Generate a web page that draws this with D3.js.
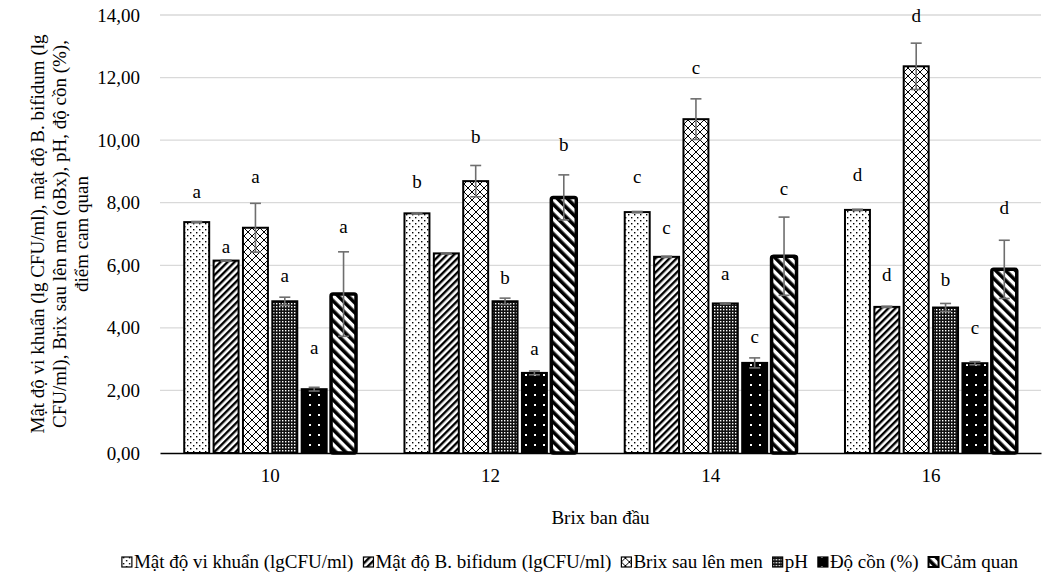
<!DOCTYPE html>
<html>
<head>
	<script src="https://cdn.jsdelivr.net/npm/d3@7"></script>
	<style>
		html, body {
			padding: 0;
			margin: 0;
			background: #fff;
		}
		text {
			font-family: "Liberation Serif", "Times New Roman", serif;
			fill: #000;
		}
	</style>
</head>
<body>
	<script>
		var width = 1042, height = 578;

		// ~ ~ ~ DATA ~ ~ ~
		var groups = ["10", "12", "14", "16"];
		var seriesNames = [
			"Mật độ vi khuẩn (lgCFU/ml)",
			"Mật độ B. bifidum (lgCFU/ml)",
			"Brix sau lên men",
			"pH",
			"Độ cồn (%)",
			"Cảm quan"
		];

		var viKhuan = [7.38, 7.66, 7.70, 7.77];
		var bifidum = [6.15, 6.38, 6.27, 4.67];
		var brixSau = [7.20, 8.69, 10.67, 12.36];
		var pH = [4.85, 4.85, 4.78, 4.65];
		var doCon = [2.04, 2.56, 2.88, 2.87];
		var camQuan = [5.08, 8.17, 6.29, 5.87];

		var viKhuanErr = [0.02, 0.02, 0.02, 0.02];
		var bifidumErr = [0.02, 0.02, 0.02, 0.02];
		var brixSauErr = [0.78, 0.50, 0.65, 0.74];
		var pHErr = [0.13, 0.10, 0.02, 0.13];
		var doConErr = [0.06, 0.06, 0.16, 0.05];
		var camQuanErr = [1.35, 0.72, 1.25, 0.93];

		// significance letters and the height they sit at
		var viKhuanLet = ["a", "b", "c", "d"], viKhuanLetY = [8.34, 8.66, 8.82, 8.88];
		var bifidumLet = ["a", null, "c", "d"], bifidumLetY = [6.58, null, 7.19, 5.69];
		var brixSauLet = ["a", "b", "c", "d"], brixSauLetY = [8.82, 10.10, 12.30, 13.96];
		var pHLet = ["a", "b", "a", "b"], pHLetY = [5.65, 5.59, 5.72, 5.53];
		var doConLet = ["a", "a", "c", "c"], doConLetY = [3.35, 3.32, 3.70, 3.99];
		var camQuanLet = ["a", "b", "c", "d"], camQuanLetY = [7.22, 9.84, 8.43, 7.82];

		var yTicks = [0, 2, 4, 6, 8, 10, 12, 14];

		var seriesValues = [viKhuan, bifidum, brixSau, pH, doCon, camQuan];
		var seriesErrors = [viKhuanErr, bifidumErr, brixSauErr, pHErr, doConErr, camQuanErr];
		var seriesLetters = [viKhuanLet, bifidumLet, brixSauLet, pHLet, doConLet, camQuanLet];
		var seriesLetterY = [viKhuanLetY, bifidumLetY, brixSauLetY, pHLetY, doConLetY, camQuanLetY];

		// ~ ~ ~ LAYOUT ~ ~ ~
		var plot = { left: 160, right: 1041, top: 15, bottom: 453 };
		var FONT = 19;

		var svg = d3.select("body").append("svg")
			.attr("width", width)
			.attr("height", height);

		var defs = svg.append("defs");

		var mkPattern = function(id, w, h, rot) {
			var p = defs.append("pattern")
				.attr("id", id)
				.attr("patternUnits", "userSpaceOnUse")
				.attr("width", w)
				.attr("height", h);
			if (rot) p.attr("patternTransform", "rotate(" + rot + ")");
			return p;
		};

		// dotted
		var p = mkPattern("pDots", 6, 6);
		p.append("rect").attr("width", 6).attr("height", 6).attr("fill", "#fff");
		p.append("rect").attr("x", 1).attr("y", 1).attr("width", 1.4).attr("height", 1.4).attr("fill", "#000");
		p.append("rect").attr("x", 4).attr("y", 4).attr("width", 1.4).attr("height", 1.4).attr("fill", "#000");

		// wide upward diagonal
		p = mkPattern("pUp", 5, 5, 45);
		p.append("rect").attr("width", 5).attr("height", 5).attr("fill", "#fff");
		p.append("rect").attr("width", 2.4).attr("height", 5).attr("fill", "#000");

		// diamonds
		p = mkPattern("pDiamond", 8, 8);
		p.append("rect").attr("width", 8).attr("height", 8).attr("fill", "#fff");
		p.append("path").attr("d", "M0,0L8,8M8,0L0,8").attr("stroke", "#000").attr("stroke-width", 1);

		// fine check for pH
		p = mkPattern("pCheck", 3, 3);
		p.append("rect").attr("width", 3).attr("height", 3).attr("fill", "#111");
		p.append("rect").attr("width", 1.4).attr("height", 1.4).attr("fill", "#fff");

		// black with white dots
		p = mkPattern("pDark", 9, 10);
		p.append("rect").attr("width", 9).attr("height", 10).attr("fill", "#000");
		p.append("rect").attr("x", 3).attr("y", 4).attr("width", 2).attr("height", 2).attr("fill", "#fff");

		// wide downward diagonal
		p = mkPattern("pDown", 7, 7, -45);
		p.append("rect").attr("width", 7).attr("height", 7).attr("fill", "#fff");
		p.append("rect").attr("width", 3.6).attr("height", 7).attr("fill", "#000");

		var fills = ["pDots", "pUp", "pDiamond", "pCheck", "pDark", "pDown"];
		var strokeW = [2, 2, 2, 2, 2, 3.5];

		// ~ ~ ~ SCALES ~ ~ ~
		var x0 = d3.scaleBand().domain(groups)
			.range([plot.left, plot.right])
			.paddingInner(0.22).paddingOuter(0.11);
		var x1 = d3.scaleBand().domain(d3.range(seriesNames.length))
			.range([0, x0.bandwidth()])
			.paddingInner(0.15);
		var y = d3.scaleLinear().domain([0, 14]).range([plot.bottom, plot.top]);

		var fmt = function(v) { return d3.format(".2f")(v).replace(".", ","); };

		// gridlines
		svg.append("g").selectAll("line")
			.data(yTicks.filter(function(t) { return t > 0; }))
			.enter().append("line")
			.attr("x1", plot.left).attr("x2", plot.right)
			.attr("y1", function(d) { return y(d); })
			.attr("y2", function(d) { return y(d); })
			.attr("stroke", "#d9d9d9").attr("stroke-width", 1.3);

		// y axis
		var yAxis = svg.append("g")
			.attr("transform", "translate(" + (plot.left - 12) + ",0)")
			.call(d3.axisLeft(y).tickValues(yTicks).tickFormat(fmt).tickSize(0).tickPadding(8));
		yAxis.select(".domain").remove();
		yAxis.selectAll("text")
			.style("font-family", "Liberation Serif")
			.style("font-size", FONT + "px")
			.attr("fill", "#000");

		// x axis
		var xAxis = svg.append("g")
			.attr("transform", "translate(0," + plot.bottom + ")")
			.call(d3.axisBottom(x0).tickSize(0).tickPadding(16));
		xAxis.select(".domain").attr("stroke", "#000").attr("stroke-width", 1.3);
		xAxis.selectAll("text")
			.style("font-family", "Liberation Serif")
			.style("font-size", FONT + "px")
			.attr("fill", "#000");

		// flatten to one record per bar
		var bars = [];
		groups.forEach(function(g, gi) {
			seriesValues.forEach(function(vals, si) {
				bars.push({
					g: g, s: si, v: vals[gi], e: seriesErrors[si][gi],
					letter: seriesLetters[si][gi], ly: seriesLetterY[si][gi]
				});
			});
		});

		// letters go under the bars
		svg.append("g").selectAll("text")
			.data(bars.filter(function(b) { return b.letter; }))
			.enter().append("text")
			.attr("x", function(b) { return x0(b.g) + x1(b.s) + x1.bandwidth() / 2; })
			.attr("y", function(b) { return y(b.ly); })
			.attr("dy", "0.32em")
			.attr("text-anchor", "middle")
			.style("font-size", FONT + "px")
			.text(function(b) { return b.letter; });

		svg.append("g").selectAll("rect")
			.data(bars)
			.enter().append("rect")
			.attr("x", function(b) { return x0(b.g) + x1(b.s); })
			.attr("y", function(b) { return y(b.v); })
			.attr("width", x1.bandwidth())
			.attr("height", function(b) { return y(0) - y(b.v); })
			.attr("rx", function(b) { return b.s === 5 ? 2 : 0; })
			.attr("fill", function(b) { return "url(#" + fills[b.s] + ")"; })
			.attr("stroke", "#000")
			.attr("stroke-width", function(b) { return strokeW[b.s]; });

		// error bars
		var eb = svg.append("g").attr("stroke", "#6e6e6e").attr("stroke-width", 1.6);
		bars.forEach(function(b) {
			var cx = x0(b.g) + x1(b.s) + x1.bandwidth() / 2;
			var hw = 5.5;
			eb.append("line").attr("x1", cx).attr("x2", cx)
				.attr("y1", y(b.v + b.e)).attr("y2", y(b.v - b.e));
			eb.append("line").attr("x1", cx - hw).attr("x2", cx + hw)
				.attr("y1", y(b.v + b.e)).attr("y2", y(b.v + b.e));
			eb.append("line").attr("x1", cx - hw).attr("x2", cx + hw)
				.attr("y1", y(b.v - b.e)).attr("y2", y(b.v - b.e));
		});

		// y title
		var yTitle = ["Mật độ vi khuẩn (lg CFU/ml), mật độ B. bifidum (lg",
			"CFU/ml), Brix sau lên men (oBx), pH, độ cồn (%),",
			"điểm cam quan"];
		var yMid = (plot.top + plot.bottom) / 2;
		svg.append("g").selectAll("text")
			.data(yTitle)
			.enter().append("text")
			.attr("transform", function(d, i) {
				return "translate(" + (38 + i * 22) + "," + yMid + ") rotate(-90)";
			})
			.attr("dy", "0.32em")
			.attr("text-anchor", "middle")
			.style("font-size", FONT + "px")
			.text(function(d) { return d; });

		// x title
		svg.append("text")
			.attr("x", (plot.left + plot.right) / 2)
			.attr("y", 518)
			.attr("dy", "0.32em")
			.attr("text-anchor", "middle")
			.style("font-size", FONT + "px")
			.text("Brix ban đầu");

		// legend
		var leg = svg.append("g");
		var lx = 0;
		seriesNames.forEach(function(name, i) {
			var item = leg.append("g").attr("transform", "translate(" + lx + ",0)");
			item.append("rect")
				.attr("x", 0).attr("y", -5)
				.attr("width", 10).attr("height", 10)
				.attr("fill", "url(#" + fills[i] + ")")
				.attr("stroke", "#000").attr("stroke-width", i === 5 ? 2 : 1.2);
			var t = item.append("text")
				.attr("x", 12).attr("dy", "0.32em")
				.style("font-size", FONT + "px")
				.text(name);
			lx += 12 + t.node().getComputedTextLength() + 10;
		});
		lx -= 10;
		leg.attr("transform", "translate(" + (570 - lx / 2) + ",562)");
	</script>
</body>
</html>
